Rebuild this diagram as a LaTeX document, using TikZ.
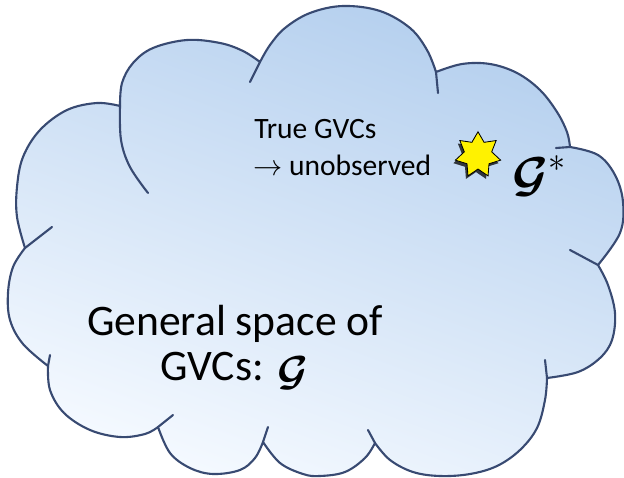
\documentclass[tikz,border=0pt]{standalone}
\usepackage{amsmath}
\usepackage{bm}
\usepackage{graphicx}
\usepackage{fontspec}
\setmainfont{Carlito}
\usetikzlibrary{shapes.geometric}

\definecolor{cloudtop}{RGB}{180,207,238}
\definecolor{cloudbot}{RGB}{244,249,255}
\definecolor{cloudedge}{RGB}{56,74,114}

\newcommand{\gvcset}{\bm{\mathcal{G}}}

\tikzset{
  rim/.style={draw=cloudedge, line width=1.5pt, line join=round, line cap=round},
  puff/.style={rim, top color=cloudtop, bottom color=cloudbot, shading angle=-20},
  bump/.style={smooth, tension=0.6},
  smalltext/.style={anchor=base west, inner sep=0pt, font=\fontsize{21}{26}\selectfont},
  bigtext/.style={inner sep=0pt, font=\fontsize{31}{37}\selectfont},
  sun/.style={star, star points=7, star point ratio=1.65, minimum size=33, inner sep=0pt}
}

\begin{document}
\begin{tikzpicture}[x=0.025cm, y=-0.025cm]
  \useasboundingbox (0,0) rectangle (624,478);

  % the cloud
  \draw[puff] (25,248)
    -- plot[bump] coordinates {(25,248) (17,217) (17,187) (23,157) (40,130) (67,110) (97,103) (120,106)}
    -- plot[bump] coordinates {(120,106) (122,83) (133,63) (153,48) (187,40) (220,43) (243,51) (260,62)}
    -- plot[bump] coordinates {(260,62) (270,45) (285,28) (310,13) (343,6) (380,11) (410,28) (427,50) (436,72)}
    -- plot[bump] coordinates {(436,72) (462,64) (490,64) (517,73) (540,90) (557,112) (567,132) (570,147)}
    -- plot[bump] coordinates {(570,147) (598,155) (615,175) (623,202) (620,233) (598,265)}
    -- plot[bump] coordinates {(598,265) (608,285) (615,313) (612,340) (600,358) (578,372) (547,378)}
    -- plot[bump] coordinates {(547,378) (545,400) (537,428) (520,450) (497,466) (470,474) (440,476) (413,472) (390,460) (375,443)}
    -- plot[bump] coordinates {(375,443) (365,458) (345,472) (320,476) (303,474) (280,463) (263,442)}
    -- plot[bump] coordinates {(263,442) (255,458) (240,470) (213,474) (190,468) (170,453) (158,427)}
    -- plot[bump] coordinates {(158,427) (145,434) (120,437) (90,430) (64,413) (50,390) (48,366)}
    -- plot[bump] coordinates {(48,366) (23,344) (10,320) (8,293) (13,267) (25,248)}
    -- cycle;

  % folds inside the cloud
  \draw[rim] plot[bump] coordinates {(120,106) (121,140) (130,167) (148,193)};
  \foreach \xa/\ya/\xb/\yb in {25/248/52/227, 260/62/250/82, 436/72/438/93,
      570/147/556/148, 598/265/570/250, 547/378/545/360, 375/443/368/430,
      263/442/268/427, 158/427/173/415, 48/366/50/355}
    \draw[rim] (\xa,\ya) -- (\xb,\yb);

  % labels
  \node[smalltext] (truegvc) at (254,139) {True GVCs};
  \node[smalltext] (unobs) at (253,176) {$\rightarrow$ unobserved};
  \node[bigtext, anchor=base] (genspace) at (235,335) {General space of};
  \node[bigtext, anchor=base west] (genset) at (160,380)
    {GVCs: \raisebox{-0.12em}{\scalebox{1.2}{$\gvcset$}}};

  % the true one
  \node[sun, fill=black, opacity=0.75] (sunshade) at (476,158) {};
  \node[sun, fill=yellow, draw=black, line width=0.6pt] (sun) at (478,155) {};
  \node[anchor=base west, inner sep=0pt, font=\fontsize{24}{28}\selectfont]
    (gstar) at (512,192) {\scalebox{1.4}{$\gvcset^{*}$}};
\end{tikzpicture}
\end{document}
